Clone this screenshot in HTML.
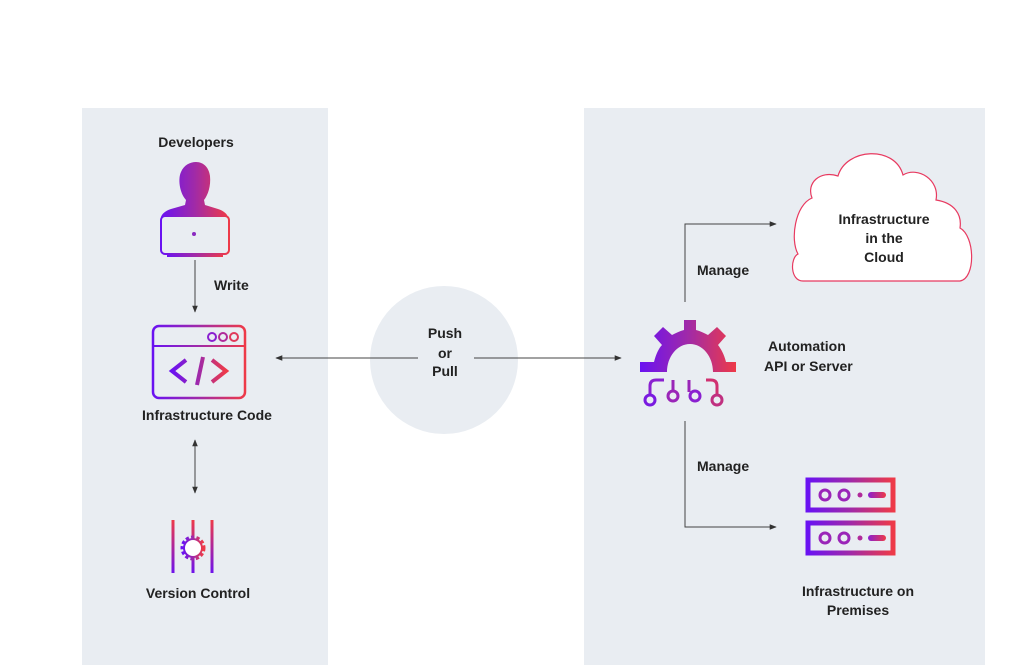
<!DOCTYPE html>
<html><head><meta charset="utf-8"><style>
html,body{margin:0;padding:0;background:#fff;}
svg{display:block;}
text{font-family:"Liberation Sans",sans-serif;font-weight:bold;font-size:14px;fill:#222;}
</style></head><body>
<svg width="1024" height="665" viewBox="0 0 1024 665" xmlns="http://www.w3.org/2000/svg">
<defs>
<linearGradient id="g" x1="0" y1="0" x2="1" y2="0">
<stop offset="0" stop-color="#6a12f2"/><stop offset="0.5" stop-color="#a02aa8"/><stop offset="1" stop-color="#ee3a48"/>
</linearGradient>
<linearGradient id="gv" gradientUnits="userSpaceOnUse" x1="0" y1="575" x2="0" y2="520">
<stop offset="0" stop-color="#6a12f2"/><stop offset="1" stop-color="#ee3a48"/>
</linearGradient>
<linearGradient id="gh" gradientUnits="userSpaceOnUse" x1="868" y1="0" x2="886" y2="0">
<stop offset="0" stop-color="#8a20d0"/><stop offset="1" stop-color="#ee3a48"/>
</linearGradient>
<marker id="a" viewBox="0 0 10 10" refX="9" refY="5" markerWidth="7" markerHeight="7" orient="auto-start-reverse"><path d="M0,1 L10,5 L0,9 z" fill="#333"/></marker>
</defs>
<rect x="82" y="108" width="246" height="557" fill="#e9edf2"/>
<rect x="584" y="108" width="401" height="557" fill="#e9edf2"/>
<circle cx="444" cy="360" r="74" fill="#e9edf2"/>

<!-- Developers -->
<text x="196" y="147" text-anchor="middle">Developers</text>
<path d="M186,200 C179,192 178,178 181,172 C184,165 190,162 196,162 C204,162 209,168 210,176 C211,186 208,195 204,200 L205,205 L218,209 C224,211 227,214 228,217 L161,217 C162,214 165,211 171,209 L185,205 Z" fill="url(#g)"/>
<rect x="161" y="216" width="68" height="38" rx="4" fill="#e9edf2" stroke="url(#g)" stroke-width="2"/>
<circle cx="194" cy="234" r="2" fill="#8a2ac0"/>
<rect x="167" y="255" width="56" height="2" fill="url(#g)"/>
<line x1="195" y1="260" x2="195" y2="312" stroke="#444" stroke-width="1" marker-end="url(#a)"/>
<text x="214" y="290">Write</text>

<!-- code window -->
<rect x="153" y="326" width="92" height="72" rx="6" fill="none" stroke="url(#g)" stroke-width="2.5"/>
<rect x="153" y="345" width="92" height="2" fill="url(#g)"/>
<circle cx="212" cy="337" r="4" fill="none" stroke="#8a20d0" stroke-width="2"/>
<circle cx="223" cy="337" r="4" fill="none" stroke="#b02a9a" stroke-width="2"/>
<circle cx="234" cy="337" r="4" fill="none" stroke="#e03a5a" stroke-width="2"/>
<path d="M186,360 L172,371 L186,382 M197,385 L203,357 M212,360 L226,371 L212,382" fill="none" stroke="url(#g)" stroke-width="4"/>
<text x="207" y="420" text-anchor="middle">Infrastructure Code</text>
<line x1="195" y1="440" x2="195" y2="493" stroke="#444" stroke-width="1" marker-start="url(#a)" marker-end="url(#a)"/>

<!-- version control -->
<rect x="171.5" y="520" width="3" height="53" fill="url(#gv)"/>
<rect x="191.5" y="520" width="3" height="53" fill="url(#gv)"/>
<rect x="210.5" y="520" width="3" height="53" fill="url(#gv)"/>
<circle cx="193" cy="548" r="10" fill="none" stroke="url(#g)" stroke-width="5" stroke-dasharray="3 2"/>
<circle cx="193" cy="548" r="10" fill="url(#g)"/>
<circle cx="193" cy="548" r="8" fill="#fff"/>
<text x="198" y="598" text-anchor="middle">Version Control</text>

<!-- push/pull -->
<text x="445" y="338" text-anchor="middle">Push</text>
<text x="445" y="358" text-anchor="middle">or</text>
<text x="445" y="376" text-anchor="middle">Pull</text>
<line x1="418" y1="358" x2="276" y2="358" stroke="#444" stroke-width="1" marker-end="url(#a)"/>
<line x1="474" y1="358" x2="621" y2="358" stroke="#444" stroke-width="1" marker-end="url(#a)"/>

<!-- gear -->
<path d="M640,372 L640,362 L654,362 C656,354 659,348 662,345 L654,336 L663,327 L672,335 C676,333 680,331 684,330 L684,320 L696,320 L696,330 C700,331 704,333 708,335 L717,327 L726,336 L718,345 C721,349 724,354 726,362 L736,362 L736,372 L713,372 C713,357 703,344 690,344 C677,344 667,357 667,372 Z" fill="url(#g)"/>
<path d="M650,396 L650,386 C650,382 652,380 656,380 L664,380" fill="none" stroke="#8a20d0" stroke-width="3"/>
<path d="M717,396 L717,386 C717,382 715,380 711,380 L706,380" fill="none" stroke="#d03070" stroke-width="3"/>
<rect x="671.5" y="380" width="3" height="12" fill="#9a25b8"/>
<rect x="687.5" y="380" width="3" height="12" fill="#9a25b8"/>
<circle cx="650" cy="400" r="5" fill="none" stroke="#7a1ae0" stroke-width="3"/>
<circle cx="673" cy="396" r="5" fill="none" stroke="#9a25b8" stroke-width="3"/>
<circle cx="695" cy="396" r="5" fill="none" stroke="#8a20d0" stroke-width="3"/>
<circle cx="717" cy="400" r="5" fill="none" stroke="#c03080" stroke-width="3"/>
<text x="768" y="351">Automation</text>
<text x="764" y="371">API or Server</text>

<!-- manage arrows -->
<path d="M685,302 L685,224 L776,224" fill="none" stroke="#444" stroke-width="1" marker-end="url(#a)"/>
<text x="697" y="275">Manage</text>
<path d="M685,421 L685,527 L776,527" fill="none" stroke="#444" stroke-width="1" marker-end="url(#a)"/>
<text x="697" y="471">Manage</text>

<!-- cloud -->
<path d="M803,281 C790,281 790,258 798,254 C790,240 795,205 812,198 C806,183 820,170 838,176 C846,148 895,145 903,175 C918,166 940,180 936,200 C955,203 962,215 960,228 C975,236 976,278 960,281 Z" fill="#fff" stroke="#e83a60" stroke-width="1.2"/>
<text x="884" y="224" text-anchor="middle">Infrastructure</text>
<text x="884" y="243" text-anchor="middle">in the</text>
<text x="884" y="262" text-anchor="middle">Cloud</text>

<!-- servers -->
<rect x="808" y="480" width="85" height="30" fill="none" stroke="url(#g)" stroke-width="5"/>
<rect x="808" y="523" width="85" height="30" fill="none" stroke="url(#g)" stroke-width="5"/>
<g fill="none" stroke="#9a25b8" stroke-width="3">
<circle cx="825" cy="495" r="5"/><circle cx="844" cy="495" r="5"/>
<circle cx="825" cy="538" r="5"/><circle cx="844" cy="538" r="5"/>
</g>
<circle cx="860" cy="495" r="2.5" fill="#b02a9a"/><circle cx="860" cy="538" r="2.5" fill="#b02a9a"/>
<rect x="868" y="492" width="18" height="6" rx="3" fill="url(#gh)"/>
<rect x="868" y="535" width="18" height="6" rx="3" fill="url(#gh)"/>
<text x="858" y="596" text-anchor="middle">Infrastructure on</text>
<text x="858" y="615" text-anchor="middle">Premises</text>
</svg>
</body></html>
